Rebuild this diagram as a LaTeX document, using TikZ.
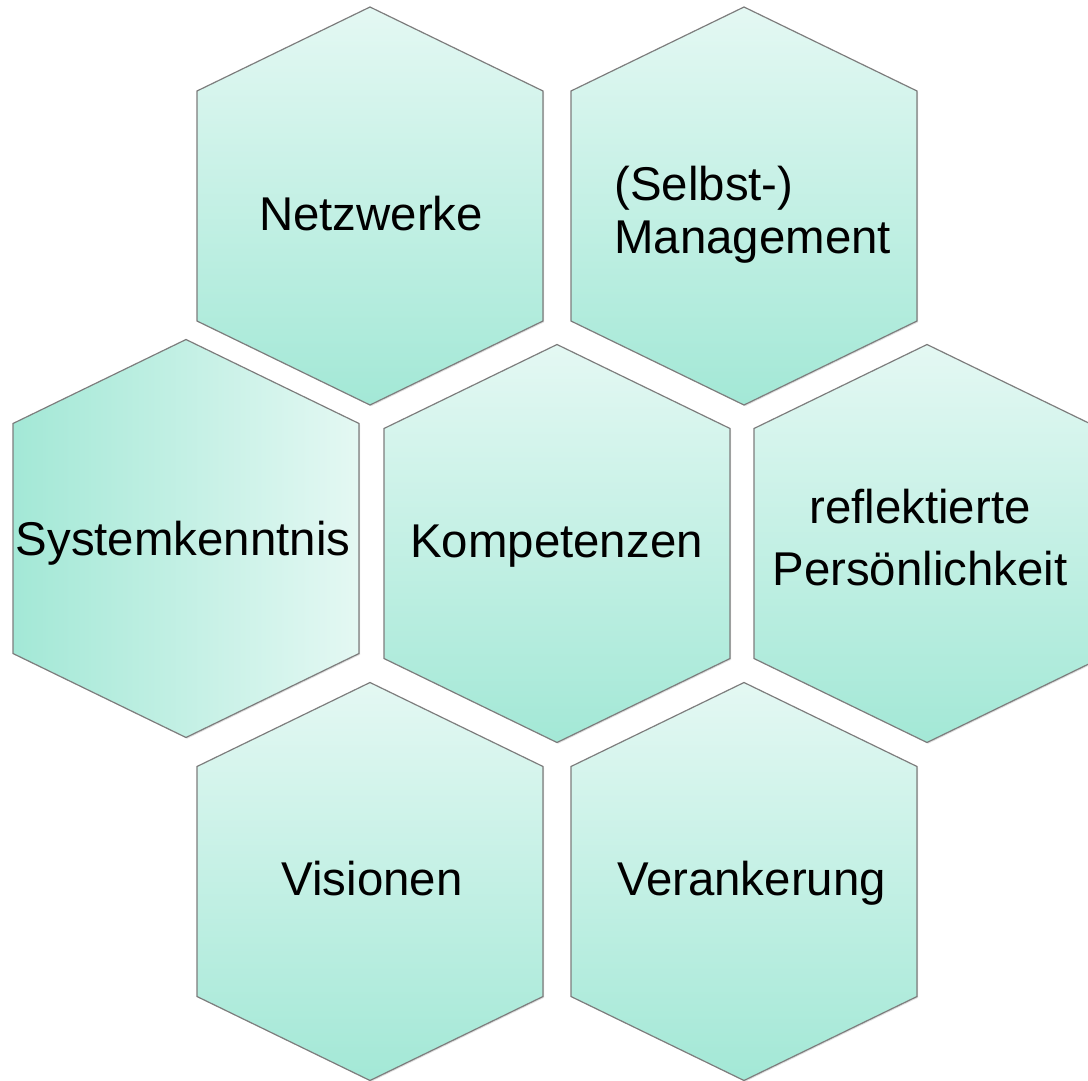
\documentclass[tikz,border=0pt]{standalone}
\usepackage{fontspec}
\setmainfont{Liberation Sans}
\usepackage{tikz}
\usetikzlibrary{shadows}

\definecolor{hexlight}{RGB}{228,248,243}
\definecolor{hexdark}{RGB}{163,232,214}
\definecolor{hexline}{RGB}{125,125,125}

\tikzset{
  hexcell/.style={draw=hexline, line width=0.6pt, line join=miter,
    drop shadow={shadow xshift=0.6pt, shadow yshift=-0.6pt, opacity=0.25}},
  vshade/.style={top color=hexlight, bottom color=hexdark},
  hshade/.style={left color=hexdark, right color=hexlight},
  celltext/.style={font=\fontsize{23.7}{26.5}\selectfont, inner sep=0pt}
}

% one hexagon around centre (#1,#2), in pixel units
\newcommand{\hexcell}[3]{%
  \path[hexcell, #3] (#1,#2-199) -- (#1+173,#2-115) -- (#1+173,#2+115)
    -- (#1,#2+199) -- (#1-173,#2+115) -- (#1-173,#2-115) -- cycle;}

\begin{document}
\begin{tikzpicture}[x=0.5pt, y=-0.5pt]
  \useasboundingbox (0,0) rectangle (1088,1081);

  % honeycomb
  \foreach \cx/\cy in {370/206, 744/206, 557/543.5, 927/543.5, 370/881.5, 744/881.5}
    \hexcell{\cx}{\cy}{vshade};
  \hexcell{186}{538.5}{hshade}

  % texts
  \node[celltext, anchor=base] (netz) at (371,230) {Netzwerke};
  \node[celltext, anchor=base west, align=left] (mgmt) at (614,253)
    {(Selbst-)\\Management};
  \node[celltext, anchor=base] (sys) at (183,555) {Systemkenntnis};
  \node[celltext, anchor=base] (komp) at (556.5,557) {Kompetenzen};
  \node[celltext, anchor=base, align=center] (pers) at (920,585)
    {reflektierte\\[4.5pt]Persönlichkeit};
  \node[celltext, anchor=base] (vis) at (372,895) {Visionen};
  \node[celltext, anchor=base] (veran) at (751.5,895) {Verankerung};
\end{tikzpicture}
\end{document}
